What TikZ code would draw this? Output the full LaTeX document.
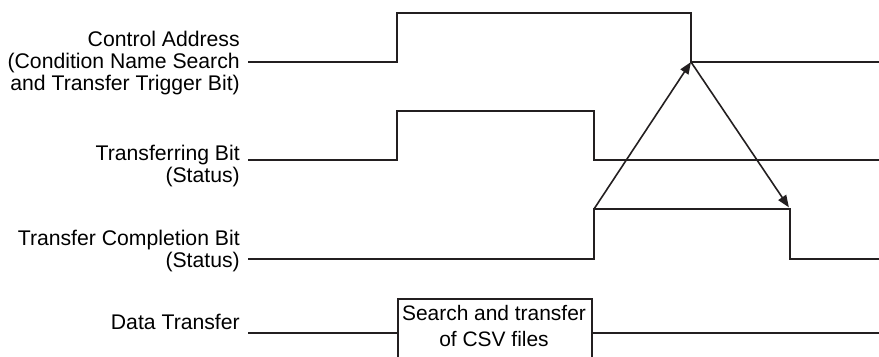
\documentclass[tikz,border=0pt]{standalone}
\usepackage{fontspec}
\setmainfont{Liberation Sans}
\usepackage{tikz}
\usetikzlibrary{arrows.meta}
\definecolor{sigline}{RGB}{35,31,32}
\tikzset{
  sig/.style  ={draw=sigline, line width=1.3pt, line join=miter},
  lab/.style  ={font=\fontsize{15.9}{16.3}\selectfont, inner sep=0pt, align=right, anchor=east},
  boxt/.style ={font=\fontsize{15.7}{19.3}\selectfont, inner sep=0pt, align=center},
  xbox/.style ={draw=sigline, line width=1.3pt, anchor=north west, inner sep=0pt,
                minimum width=145.5pt, minimum height=52pt},
  trig/.style ={draw=sigline, line width=1.2pt, -{Triangle[length=9pt,width=7pt]}},
}

\begin{document}
\begin{tikzpicture}[x=0.75pt,y=-0.75pt]
  \useasboundingbox (0,0) rectangle (879,357);
  % signal names
  \node[lab] (ca) at (240,63) {Control Address\\(Condition Name Search\\and Transfer Trigger Bit)};
  \node[lab] (tb) at (240,166) {Transferring Bit\\(Status)};
  \node[lab] (tc) at (240,251) {Transfer Completion Bit\\(Status)};
  \node[lab] (dt) at (240,322) {Data Transfer};
  % edges used by the arrows
  \coordinate (caFall) at (691,62);
  \coordinate (tcRise) at (594,209);
  \coordinate (tcFall) at (790,209);
  \coordinate (dtLvl)  at (0,333);
  % waveforms
  \draw[sig] (248,62) -- (397,62) -- (397,13) -- (691,13) -- (caFall) -- (879,62);
  \draw[sig] (248,160) -- (397,160) -- (397,111) -- (594,111) -- (594,160) -- (879,160);
  \draw[sig] (248,259) -- (594,259) -- (tcRise) -- (tcFall) -- (790,259) -- (879,259);
  \node[xbox] (xfer) at (397,298) {};
  \node[boxt] (xtxt) at (494,326) {Search and transfer\\of CSV files};
  \draw[sig] (248,333) -- (xfer.west |- dtLvl);
  \draw[sig] (xfer.east |- dtLvl) -- (879,333);
  % handshake
  \draw[trig] (tcRise) -- (caFall);
  \draw[trig, shorten >=1.5pt] (caFall) -- (tcFall);
\end{tikzpicture}
\end{document}
